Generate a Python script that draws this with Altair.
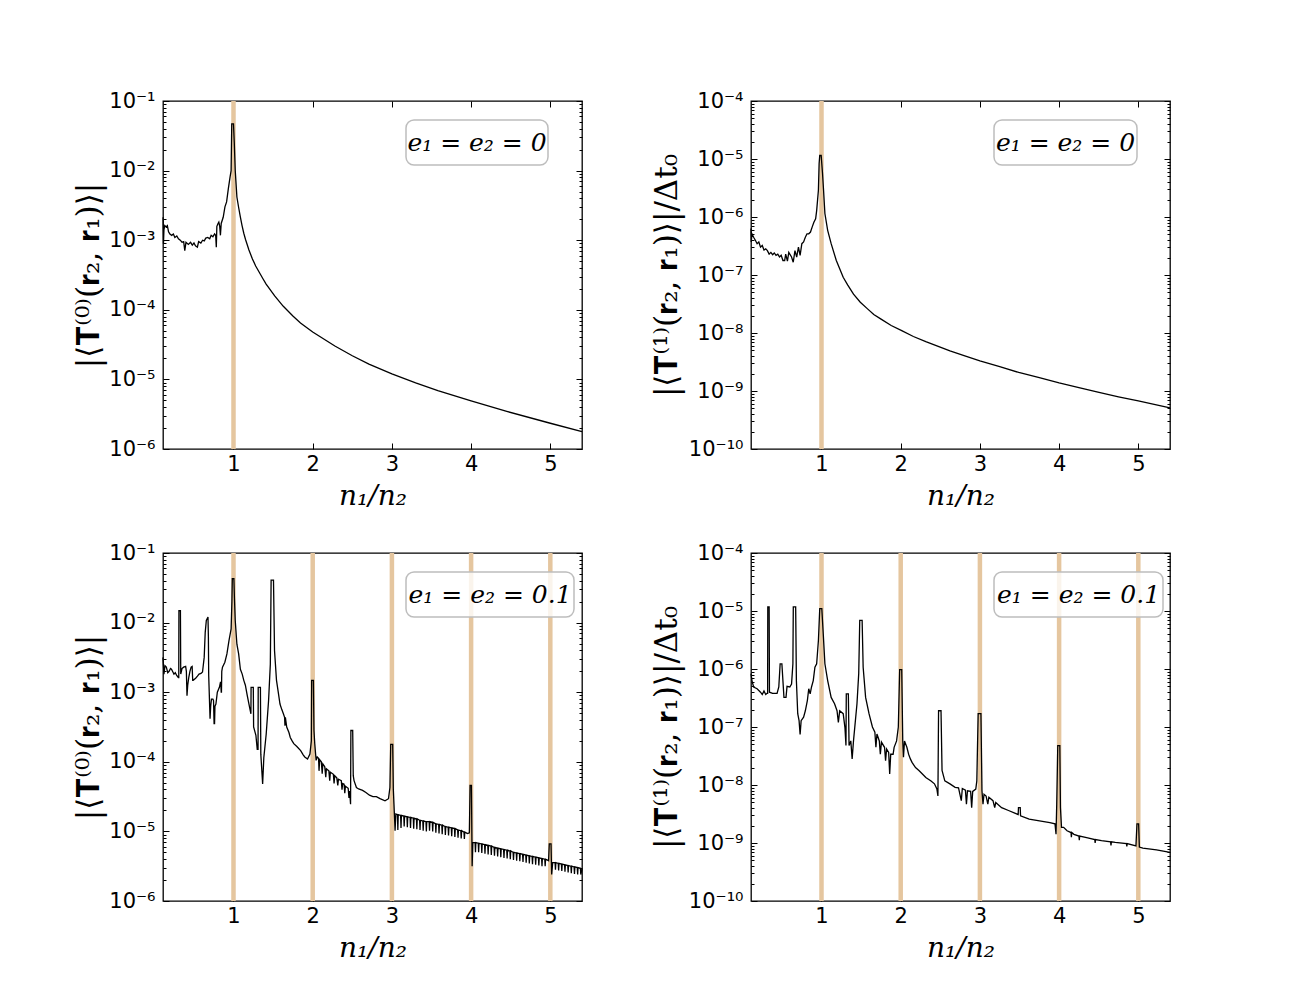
import altair as alt
import pandas as pd

# ---------------- data (x = n1/n2, value given as log10 of the plotted quantity) -------------
X_DOMAIN = [0.11, 5.4]
X_TICKS = [1, 2, 3, 4, 5]
RES_TOP = [1]
RES_BOTTOM = [1, 2, 3, 4, 5]

top_left = [
    (0.111, -2.67), (0.116, -3.05), (0.122, -2.85), (0.132, -2.79), (0.150, -2.81), (0.165, -2.79),
    (0.180, -2.88), (0.197, -2.91), (0.220, -2.93), (0.241, -2.91), (0.260, -2.96), (0.284, -2.94),
    (0.305, -2.98), (0.328, -3.00), (0.350, -3.03), (0.371, -3.02), (0.385, -3.15), (0.400, -3.03),
    (0.430, -3.06), (0.458, -3.03), (0.480, -3.07), (0.501, -3.04), (0.520, -3.08), (0.544, -3.10),
    (0.560, -3.02), (0.588, -3.04), (0.610, -3.00), (0.631, -3.01), (0.650, -2.97), (0.675, -2.96),
    (0.700, -2.98), (0.718, -2.93), (0.740, -2.95), (0.761, -2.91), (0.775, -2.93), (0.783, -3.10),
    (0.790, -2.80), (0.805, -2.76), (0.815, -2.74), (0.826, -2.80), (0.835, -2.93), (0.845, -2.76),
    (0.870, -2.67), (0.892, -2.52), (0.913, -2.45), (0.935, -2.26), (0.957, -2.09), (0.970, -2.00),
    (0.978, -1.33), (1.000, -1.33), (1.010, -1.60), (1.022, -2.00), (1.043, -2.38), (1.065, -2.53),
    (1.087, -2.67), (1.108, -2.79), (1.130, -2.90), (1.152, -2.99), (1.195, -3.14), (1.239, -3.27),
    (1.280, -3.37), (1.325, -3.46), (1.370, -3.55), (1.412, -3.63), (1.520, -3.80), (1.629, -3.95),
    (1.750, -4.09), (1.846, -4.19), (2.000, -4.32), (2.280, -4.52), (2.500, -4.66), (2.710, -4.78),
    (3.000, -4.92), (3.300, -5.05), (3.580, -5.16), (4.000, -5.31), (4.450, -5.46), (5.000, -5.63),
    (5.400, -5.75),
]

top_right = [
    (0.110, -6.20), (0.113, -6.43), (0.122, -6.29), (0.143, -6.35), (0.165, -6.40), (0.187, -6.46),
    (0.209, -6.43), (0.230, -6.52), (0.252, -6.49), (0.274, -6.57), (0.296, -6.55), (0.317, -6.58),
    (0.339, -6.64), (0.361, -6.61), (0.383, -6.65), (0.404, -6.62), (0.426, -6.66), (0.448, -6.64),
    (0.470, -6.69), (0.491, -6.66), (0.513, -6.75), (0.535, -6.75), (0.548, -6.64), (0.570, -6.76),
    (0.587, -6.61), (0.622, -6.69), (0.643, -6.78), (0.665, -6.58), (0.687, -6.69), (0.709, -6.52),
    (0.730, -6.66), (0.752, -6.46), (0.774, -6.43), (0.796, -6.35), (0.817, -6.29), (0.839, -6.29),
    (0.861, -6.26), (0.883, -6.17), (0.904, -6.09), (0.926, -6.03), (0.939, -5.89), (0.961, -5.54),
    (0.970, -5.08), (0.978, -4.94), (0.996, -4.94), (1.013, -5.25), (1.026, -5.54), (1.043, -5.94),
    (1.078, -6.23), (1.122, -6.46), (1.187, -6.75), (1.274, -7.04), (1.330, -7.17), (1.404, -7.33),
    (1.490, -7.47), (1.578, -7.58), (1.660, -7.68), (1.752, -7.76), (1.880, -7.87), (2.013, -7.96),
    (2.160, -8.06), (2.317, -8.15), (2.622, -8.31), (2.800, -8.39), (3.000, -8.48), (3.250, -8.58),
    (3.490, -8.68), (3.750, -8.77), (4.000, -8.86), (4.250, -8.94), (4.490, -9.02), (4.750, -9.10),
    (5.000, -9.17), (5.400, -9.29),
]

bottom_left = [
    (0.109, -2.50), (0.122, -2.74), (0.135, -2.62), (0.152, -2.64), (0.170, -2.72), (0.187, -2.70),
    (0.205, -2.66), (0.217, -2.67), (0.235, -2.71), (0.248, -2.74), (0.265, -2.72), (0.283, -2.76),
    (0.304, -2.79), (0.309, -2.79), (0.311, -1.83), (0.330, -1.83), (0.334, -2.74), (0.350, -2.66),
    (0.370, -2.64), (0.396, -2.63), (0.405, -2.70), (0.413, -3.05), (0.422, -2.90), (0.435, -2.79),
    (0.450, -2.70), (0.465, -2.64), (0.478, -2.63), (0.485, -2.83), (0.491, -2.83), (0.522, -2.80),
    (0.545, -2.77), (0.565, -2.74), (0.590, -2.73), (0.609, -2.71), (0.630, -2.50), (0.643, -2.14),
    (0.657, -1.97), (0.678, -1.92), (0.683, -2.20), (0.687, -2.76), (0.704, -3.38), (0.712, -3.20),
    (0.722, -3.10), (0.740, -3.10), (0.748, -3.12), (0.755, -3.45), (0.761, -3.45), (0.766, -3.20),
    (0.778, -3.17), (0.796, -3.00), (0.822, -2.93), (0.835, -2.86), (0.839, -2.86), (0.845, -3.00),
    (0.848, -3.00), (0.852, -2.70), (0.861, -2.64), (0.891, -2.57), (0.917, -2.45), (0.943, -2.26),
    (0.970, -2.09), (0.980, -1.70), (0.985, -1.37), (1.005, -1.37), (1.012, -1.65), (1.022, -1.97),
    (1.043, -2.31), (1.065, -2.45), (1.087, -2.67), (1.110, -2.74), (1.130, -2.83), (1.150, -2.90),
    (1.174, -3.05), (1.204, -3.22), (1.220, -3.31), (1.222, -2.93), (1.250, -2.93), (1.254, -3.50),
    (1.283, -3.62), (1.300, -3.82), (1.310, -3.82), (1.312, -2.93), (1.340, -2.93), (1.345, -3.89),
    (1.368, -4.32), (1.383, -3.94), (1.413, -3.60), (1.443, -3.12), (1.465, -2.60), (1.475, -1.39),
    (1.505, -1.39), (1.518, -2.40), (1.543, -2.83), (1.565, -3.00), (1.587, -3.17), (1.610, -3.25),
    (1.630, -3.31), (1.645, -3.36), (1.650, -3.48), (1.655, -3.36), (1.672, -3.50), (1.700, -3.58),
    (1.717, -3.65), (1.740, -3.70), (1.761, -3.74), (1.800, -3.78), (1.848, -3.84), (1.880, -3.90),
    (1.900, -3.93), (1.935, -3.96), (1.965, -3.89), (1.983, -3.70), (1.987, -2.83), (2.009, -2.83),
    (2.016, -3.55), (2.026, -3.74), (2.043, -3.98), (2.057, -3.93), (2.074, -3.95), (2.080, -4.13),
    (2.088, -3.97), (2.109, -4.00), (2.120, -4.17), (2.128, -4.03), (2.152, -4.07), (2.165, -4.22),
    (2.173, -4.10), (2.204, -4.13), (2.215, -4.27), (2.223, -4.15), (2.261, -4.18), (2.270, -4.31),
    (2.278, -4.20), (2.304, -4.23), (2.317, -4.34), (2.325, -4.25), (2.361, -4.27), (2.370, -4.40),
    (2.378, -4.31), (2.396, -4.32), (2.405, -4.45), (2.413, -4.35), (2.448, -4.38), (2.458, -4.52),
    (2.466, -4.42), (2.478, -4.61), (2.482, -3.55), (2.505, -3.55), (2.512, -4.20), (2.522, -4.27),
    (2.552, -4.37), (2.580, -4.39), (2.630, -4.41), (2.672, -4.44), (2.717, -4.48), (2.760, -4.50),
    (2.804, -4.50), (2.850, -4.53), (2.913, -4.56), (2.957, -4.53), (2.975, -4.37), (2.985, -3.75),
    (3.010, -3.75), (3.018, -4.40), (3.026, -4.61), (3.040, -4.99), (3.050, -4.75),
    (3.070, -4.76), (3.075, -4.98), (3.080, -4.76), (3.110, -4.77), (3.115, -4.95), (3.120, -4.77),
    (3.150, -4.78), (3.155, -4.93), (3.160, -4.78), (3.190, -4.79), (3.195, -4.94), (3.200, -4.79),
    (3.230, -4.80), (3.235, -4.95), (3.240, -4.80), (3.270, -4.81), (3.275, -4.96), (3.280, -4.81),
    (3.310, -4.82), (3.315, -4.97), (3.320, -4.82), (3.350, -4.84), (3.355, -4.98), (3.360, -4.84),
    (3.390, -4.85), (3.395, -4.99), (3.400, -4.85), (3.430, -4.86), (3.435, -5.00), (3.440, -4.86),
    (3.470, -4.86), (3.475, -4.99), (3.480, -4.86), (3.510, -4.87), (3.515, -5.00), (3.520, -4.87),
    (3.550, -4.89), (3.555, -5.02), (3.560, -4.89), (3.590, -4.90), (3.595, -5.03), (3.600, -4.90),
    (3.630, -4.91), (3.635, -5.04), (3.640, -4.91), (3.670, -4.93), (3.675, -5.05), (3.680, -4.93),
    (3.710, -4.94), (3.715, -5.06), (3.720, -4.94), (3.750, -4.95), (3.755, -5.07), (3.760, -4.95),
    (3.790, -4.96), (3.795, -5.08), (3.800, -4.96), (3.830, -4.98), (3.835, -5.09), (3.840, -4.98),
    (3.870, -4.99), (3.875, -5.10), (3.880, -4.99), (3.910, -5.01), (3.915, -5.11), (3.920, -5.01),
    (3.955, -5.03), (3.978, -5.02), (3.987, -4.34), (4.004, -4.34), (4.013, -5.50), (4.022, -5.16),
    (4.050, -5.16), (4.055, -5.30), (4.060, -5.16), (4.090, -5.17), (4.095, -5.30), (4.100, -5.17),
    (4.130, -5.18), (4.135, -5.31), (4.140, -5.18), (4.170, -5.19), (4.175, -5.32), (4.180, -5.19),
    (4.210, -5.20), (4.215, -5.33), (4.220, -5.20), (4.250, -5.21), (4.255, -5.34), (4.260, -5.21),
    (4.290, -5.23), (4.295, -5.35), (4.300, -5.23), (4.330, -5.24), (4.335, -5.36), (4.340, -5.24),
    (4.370, -5.25), (4.375, -5.37), (4.380, -5.25), (4.410, -5.26), (4.415, -5.38), (4.420, -5.26),
    (4.450, -5.27), (4.455, -5.39), (4.460, -5.27), (4.490, -5.28), (4.495, -5.40), (4.500, -5.28),
    (4.530, -5.30), (4.535, -5.41), (4.540, -5.30), (4.570, -5.31), (4.575, -5.42), (4.580, -5.31),
    (4.610, -5.32), (4.615, -5.43), (4.620, -5.32), (4.650, -5.33), (4.655, -5.44), (4.660, -5.33),
    (4.690, -5.34), (4.695, -5.45), (4.700, -5.34), (4.730, -5.35), (4.735, -5.46), (4.740, -5.35),
    (4.770, -5.36), (4.775, -5.47), (4.780, -5.36), (4.810, -5.37), (4.815, -5.48), (4.820, -5.37),
    (4.850, -5.38), (4.855, -5.49), (4.860, -5.38), (4.890, -5.39), (4.895, -5.50), (4.900, -5.39),
    (4.930, -5.40), (4.935, -5.50), (4.940, -5.40), (4.978, -5.42), (4.987, -5.18), (5.009, -5.18),
    (5.017, -5.62), (5.030, -5.45), (5.060, -5.45), (5.065, -5.55), (5.070, -5.45), (5.100, -5.46),
    (5.105, -5.56), (5.110, -5.46), (5.140, -5.47), (5.145, -5.57), (5.150, -5.47), (5.180, -5.48),
    (5.185, -5.58), (5.190, -5.48), (5.220, -5.49), (5.225, -5.59), (5.230, -5.49), (5.260, -5.50),
    (5.265, -5.60), (5.270, -5.50), (5.300, -5.51), (5.305, -5.61), (5.310, -5.51), (5.340, -5.52),
    (5.345, -5.62), (5.350, -5.52), (5.380, -5.53), (5.385, -5.62), (5.400, -5.54),
]

bottom_right = [
    (0.110, -6.08), (0.122, -6.20), (0.143, -6.31), (0.187, -6.34), (0.230, -6.40), (0.252, -6.44),
    (0.274, -6.38), (0.296, -6.44), (0.313, -6.42), (0.320, -6.42), (0.322, -4.93), (0.339, -4.93),
    (0.343, -6.40), (0.383, -6.42), (0.439, -6.42), (0.461, -6.31), (0.478, -5.91), (0.500, -5.91),
    (0.513, -6.20), (0.526, -6.49), (0.552, -6.49), (0.565, -6.30), (0.600, -6.31), (0.622, -6.26),
    (0.639, -5.91), (0.644, -4.93), (0.674, -4.93), (0.683, -6.20), (0.700, -6.77), (0.717, -6.89),
    (0.730, -7.13), (0.743, -6.89), (0.774, -6.83), (0.796, -6.72), (0.822, -6.54), (0.839, -6.34),
    (0.857, -6.43), (0.874, -6.31), (0.896, -6.20), (0.917, -5.97), (0.939, -5.91), (0.961, -5.51),
    (0.978, -4.96), (1.004, -4.96), (1.022, -5.39), (1.043, -5.91), (1.078, -6.20), (1.122, -6.49),
    (1.165, -6.60), (1.196, -6.72), (1.213, -6.92), (1.230, -6.72), (1.274, -6.77), (1.296, -7.01),
    (1.309, -7.32), (1.313, -6.43), (1.339, -6.43), (1.348, -7.32), (1.370, -7.24), (1.387, -7.55),
    (1.404, -7.24), (1.448, -6.60), (1.470, -6.08), (1.483, -5.16), (1.513, -5.16), (1.526, -5.97),
    (1.557, -6.49), (1.600, -6.77), (1.643, -7.00), (1.674, -7.09), (1.687, -7.35), (1.700, -7.12),
    (1.730, -7.24), (1.743, -7.47), (1.757, -7.26), (1.796, -7.35), (1.809, -7.58), (1.822, -7.38),
    (1.848, -7.44), (1.861, -7.81), (1.874, -7.47), (1.904, -7.47), (1.917, -7.35), (1.948, -7.24),
    (1.970, -7.00), (1.987, -6.01), (2.013, -6.01), (2.026, -7.24), (2.035, -7.52), (2.048, -7.24),
    (2.078, -7.35), (2.100, -7.47), (2.122, -7.55), (2.143, -7.61), (2.187, -7.70), (2.230, -7.75),
    (2.274, -7.81), (2.317, -7.87), (2.383, -7.93), (2.426, -7.98), (2.457, -8.07), (2.470, -8.19),
    (2.478, -6.72), (2.509, -6.72), (2.522, -7.75), (2.557, -7.93), (2.622, -7.98), (2.687, -8.04),
    (2.730, -8.05), (2.765, -8.27), (2.778, -8.06), (2.817, -8.09), (2.830, -8.33), (2.843, -8.10),
    (2.883, -8.11), (2.896, -8.39), (2.909, -8.11), (2.948, -8.07), (2.961, -7.93), (2.978, -6.77),
    (3.013, -6.77), (3.026, -8.10), (3.039, -8.33), (3.052, -8.16), (3.078, -8.19), (3.100, -8.33),
    (3.113, -8.21), (3.165, -8.27), (3.187, -8.39), (3.200, -8.30), (3.274, -8.39), (3.361, -8.44),
    (3.448, -8.49), (3.483, -8.51), (3.487, -8.39), (3.509, -8.39), (3.513, -8.53), (3.622, -8.59),
    (3.752, -8.62), (3.883, -8.65), (3.948, -8.67), (3.961, -8.85), (3.970, -8.33), (3.983, -7.32),
    (4.009, -7.32), (4.017, -8.39), (4.030, -8.73), (4.057, -8.73), (4.100, -8.79), (4.150, -8.82),
    (4.155, -8.90), (4.160, -8.82), (4.187, -8.85), (4.250, -8.88), (4.255, -8.95), (4.260, -8.88),
    (4.361, -8.91), (4.450, -8.94), (4.455, -9.00), (4.460, -8.94), (4.535, -8.96), (4.650, -8.98),
    (4.655, -9.04), (4.660, -8.98), (4.709, -8.99), (4.850, -9.01), (4.855, -9.06), (4.860, -9.01),
    (4.970, -9.05), (4.983, -8.67), (5.004, -8.67), (5.013, -9.07), (5.057, -9.09), (5.230, -9.12),
    (5.400, -9.16),
]

ORANGE = "#E5C69F"
SUP = "['⁻¹⁰','⁻⁹','⁻⁸','⁻⁷','⁻⁶','⁻⁵','⁻⁴','⁻³','⁻²','⁻¹','⁰']"
LABEL_EXPR = "'10' + " + SUP + "[round(log(datum.value)/LN10) + 10]"

W, H = 419, 348


def panel(pts, res, lo, hi, ytitle, legend_text, box_w, title_x):
    df = pd.DataFrame({
        "x": [p[0] for p in pts],
        "y": [10.0 ** p[1] for p in pts],
        "i": list(range(len(pts))),
    })
    rdf = pd.DataFrame({"r": res})
    xs = alt.Scale(domain=X_DOMAIN, nice=False, zero=False)
    ys = alt.Scale(type="log", domain=[10.0 ** lo, 10.0 ** hi], nice=False)
    majors = [10.0 ** k for k in range(lo, hi + 1)]
    minors = [m * 10.0 ** k for k in range(lo, hi) for m in range(2, 10)]

    rules = alt.Chart(rdf).mark_rule(color=ORANGE, strokeWidth=4.5).encode(
        x=alt.X("r:Q", scale=xs, axis=alt.Axis(
            orient="bottom", values=X_TICKS, format="d", offset=-6, tickSize=6, domain=False,
            labelPadding=4, title="n₁/n₂", titleFont="DejaVu Serif", titleFontStyle="italic",
            titleFontWeight="normal", titleFontSize=28, titleY=53, titleBaseline="middle")))

    line = alt.Chart(df).mark_line(color="black", strokeWidth=1.3).encode(
        x=alt.X("x:Q", scale=xs, axis=alt.Axis(
            orient="top", values=X_TICKS, labels=False, title=None, offset=-6, tickSize=6, domain=False)),
        y=alt.Y("y:Q", scale=ys, axis=alt.Axis(
            orient="left", values=majors, labelExpr=LABEL_EXPR, offset=-6, tickSize=6, domain=False,
            labelPadding=8, title=ytitle, titleFont="DejaVu Serif", titleFontWeight="normal",
            titleFontSize=31, titleX=title_x, titleY=H / 2, titleBaseline="middle",
            titleAlign="center")),
        order=alt.Order("i:Q"))

    def ghost(orient, vals, size):
        return alt.Chart(df).mark_point(opacity=0).encode(
            x=alt.X("x:Q", scale=xs, axis=None),
            y=alt.Y("y:Q", scale=ys, axis=alt.Axis(
                orient=orient, values=vals, labels=False, title=None, offset=-size,
                tickSize=size, domain=False)))

    box = alt.Chart(rdf).transform_aggregate(n="count()").mark_rect(
        fill="white", fillOpacity=0.8, stroke="#bdbdbd", strokeWidth=1.5, cornerRadius=8
    ).encode(x=alt.value(243), x2=alt.value(243 + box_w), y=alt.value(19), y2=alt.value(64))
    txt = alt.Chart(rdf).transform_aggregate(n="count()").mark_text(
        text=legend_text, font="DejaVu Serif", fontStyle="italic", fontSize=25,
        align="center", baseline="middle", color="black"
    ).encode(x=alt.value(243 + box_w / 2), y=alt.value(42))

    return alt.layer(
        rules, line, ghost("right", majors, 6), ghost("left", minors, 3), ghost("right", minors, 3),
        box, txt
    ).resolve_scale(x="shared", y="shared").resolve_axis(x="independent", y="independent").properties(
        width=W, height=H)


p1 = panel(top_left, RES_TOP, -6, -1, "|⟨𝐓⁽⁰⁾(𝐫₂, 𝐫₁)⟩|", "e₁ = e₂ = 0", 142, -80)
p2 = panel(top_right, RES_TOP, -10, -4, "|⟨𝐓⁽¹⁾(𝐫₂, 𝐫₁)⟩|/Δt₀", "e₁ = e₂ = 0", 143, -90)
p3 = panel(bottom_left, RES_BOTTOM, -6, -1, "|⟨𝐓⁽⁰⁾(𝐫₂, 𝐫₁)⟩|", "e₁ = e₂ = 0.1", 168, -80)
p4 = panel(bottom_right, RES_BOTTOM, -10, -4, "|⟨𝐓⁽¹⁾(𝐫₂, 𝐫₁)⟩|/Δt₀", "e₁ = e₂ = 0.1", 169, -90)

row1 = alt.hconcat(p1, p2, spacing=169, bounds="flush")
row2 = alt.hconcat(p3, p4, spacing=169, bounds="flush")

chart = alt.vconcat(row1, row2, spacing=30).properties(
    padding={"left": 72, "top": 89, "right": 20, "bottom": 20}
).configure_view(
    stroke="black", strokeWidth=1.3
).configure_axis(
    grid=False, labelFont="DejaVu Sans", labelFontSize=21, labelColor="black",
    tickColor="black", tickWidth=1, titleColor="black"
)

chart.save("out.html", embed_options={"renderer": "svg", "actions": False})
